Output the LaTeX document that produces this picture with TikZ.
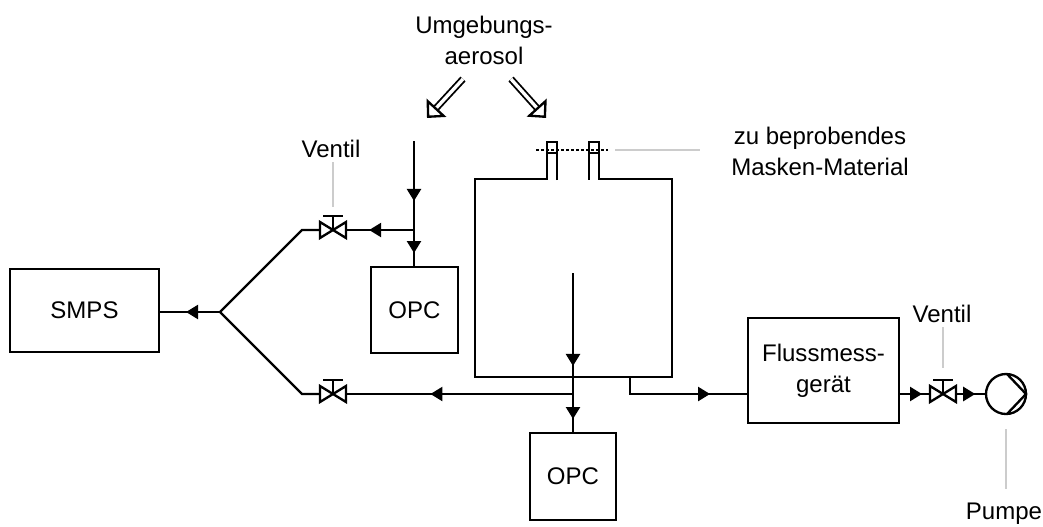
\documentclass[tikz,border=0pt]{standalone}
\usepackage{fontspec}
\setmainfont{Liberation Sans}
\usetikzlibrary{arrows.meta,decorations.markings}

\tikzset{
    >={Triangle[length=0.36cm,width=0.42cm]},
    pipe/.style={line width=0.07cm,line join=miter},
    flowtip/.style={postaction={decorate,decoration={markings,mark=at position #1 with {\arrow{>}}}}},
    devicebox/.style={draw,line width=0.07cm,inner sep=0pt,outer sep=0pt,align=center,minimum width=#1},
    leader/.style={line width=0.07cm,black!20},
    lbl/.style={inner sep=0pt,align=center},
    intake/.style={line width=0.055cm,double,double distance=0.1cm,-{Triangle[open,fill=white,length=0.42cm,width=0.8cm,line width=0.07cm]}},
    valve/.pic={
        \draw[pipe] (-13,-8) -- (13,8) -- (13,-8) -- (-13,8) -- cycle;
        \draw[pipe] (0,0) -- (0,-14);
        \draw[pipe] (-10,-14) -- (10,-14);
        \coordinate (-l) at (-13,0);
        \coordinate (-r) at (13,0);
        \coordinate (-top) at (0,-14);
    }
}

\begin{document}
\begin{tikzpicture}[x=0.03cm,y=-0.03cm,font=\fontsize{20.5pt}{26.6pt}\selectfont]
    \useasboundingbox (0,0) rectangle (1043,526);

    % Devices
    \node[devicebox=4.47cm,minimum height=2.49cm] (smps) at (84.5,310.5) {SMPS};
    \node[devicebox=2.61cm,minimum height=2.58cm] (opcA) at (414.5,310) {OPC};
    \node[devicebox=2.58cm,minimum height=2.61cm] (opcB) at (573,476.5) {OPC};
    \node[devicebox=4.53cm,minimum height=3.15cm] (flow) at (823.5,370.5) {Flussmess-\\gerät};
    \node[draw,circle,line width=0.07cm,inner sep=0pt,minimum size=1.2cm] (pump) at (1006,394) {};
    \draw[pipe] (1007,374) -- (1026,394) -- (1007,414);

    % Valves
    \pic (valveA) at (333,230) {valve};
    \pic (valveB) at (333,394) {valve};
    \pic (valveC) at (943,394) {valve};

    % Chamber with the two necks
    \draw[pipe] (557,180) -- (557,142) -- (547,142) -- (547,179) -- (475,179) -- (475,377) -- (672,377) -- (672,179) -- (599,179) -- (599,142) -- (589,142) -- (589,180);
    \draw[pipe] (547,153) -- (557,153);
    \draw[pipe] (589,153) -- (599,153);

    % Labels
    \node[lbl] (lblAerosol) at (484,40) {Umgebungs-\\aerosol};
    \node[lbl] (lblVentilA) at (331,149) {Ventil};
    \node[lbl] (lblVentilC) at (942,314) {Ventil};
    \node[lbl] (lblMaterial) at (820,151) {zu beprobendes\\Masken-Material};
    \node[lbl] (lblPumpe) at (1004,514) {Pumpe};

    % Named points
    \coordinate (inletA) at (414,141);
    \coordinate (teeA) at (414,230);
    \coordinate (probeB) at (573,273);
    \coordinate (teeB) at (573,394);
    \coordinate (outlet) at (630,377);
    \coordinate (fork) at (220,312);
    \coordinate (matL) at (536,150);
    \coordinate (matR) at (608,150);

    % Pipes
    \draw[pipe,flowtip=0.476,flowtip=0.889] (inletA) -- (opcA.north -| inletA);
    \draw[pipe,flowtip=0.66] (teeA) -- (valveA-r);
    \draw[pipe] (valveA-l) -- (302,230) -- (fork);
    \draw[pipe,flowtip=0.557] (fork) -- (fork -| smps.east);
    \draw[pipe] (fork) -- (302,394) -- (valveB-l);
    \draw[pipe,flowtip=0.628] (teeB) -- (valveB-r);
    \draw[pipe,flowtip=0.581,flowtip=0.9125] (probeB) -- (opcB.north -| probeB);
    \draw[pipe,flowtip=0.719] (outlet) |- (flow.west |- teeB);
    \draw[pipe,flowtip=0.742] (flow.east |- valveC-l) -- (valveC-l);
    \draw[pipe,flowtip=0.667] (valveC-r) -- (pump.west);

    % Ambient aerosol
    \coordinate (aerosolA) at (463,79);
    \coordinate (aerosolB) at (511,79);
    \draw[intake] (aerosolA) -- (427,118);
    \draw[intake] (aerosolB) -- (546,118);

    % Filter material
    \draw[line width=0.08cm,dotted] (matL) -- (matR);

    % Leaders
    \draw[leader,shorten >=0.27cm] (valveA-top |- lblVentilA.south) ++(0,4) -- (valveA-top);
    \draw[leader,shorten >=0.36cm] (valveC-top |- lblVentilC.south) ++(0,4) -- (valveC-top);
    \draw[leader,shorten <=0.21cm] (matR) -- (700,150);
    \draw[leader,shorten <=0.42cm,shorten >=0.42cm] (pump.south) -- (pump.south |- lblPumpe.north);
\end{tikzpicture}
\end{document}
